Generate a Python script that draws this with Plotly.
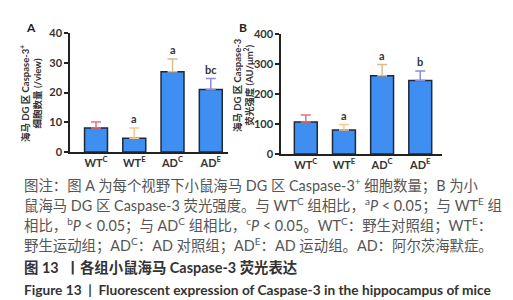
import plotly.graph_objects as go

groups = ["WT<sup>C</sup>", "WT<sup>E</sup>", "AD<sup>C</sup>", "AD<sup>E</sup>"]
count_mean = [8.1, 4.6, 27.0, 21.0]
count_err = [2.0, 3.5, 4.3, 3.7]
count_sig = ["", "a", "a", "bc"]
intensity_mean = [107, 80, 261, 245]
intensity_err = [23, 18, 37, 32]
intensity_sig = ["", "a", "a", "b"]
err_colors = ["#e8707a", "#f2c98f", "#d9bc8c", "#8c8ce0"]

caption_lines = [
    "图注：图 A 为每个视野下小鼠海马 DG 区 Caspase-3<sup>+</sup> 细胞数量；B 为小",
    "鼠海马 DG 区 Caspase-3 荧光强度。与 WT<sup>C</sup> 组相比，<sup>a</sup><i>P</i> < 0.05；与 WT<sup>E</sup> 组",
    "相比，<sup>b</sup><i>P</i> < 0.05；与 AD<sup>C</sup> 组相比，<sup>c</sup><i>P</i> < 0.05。WT<sup>C</sup>：野生对照组；WT<sup>E</sup>：",
    "野生运动组；AD<sup>C</sup>：AD 对照组；AD<sup>E</sup>：AD 运动组。AD：阿尔茨海默症。",
]
title_cn = "图 13  丨各组小鼠海马 Caspase-3 荧光表达"
title_en = "Figure 13  |  Fluorescent expression of Caspase-3 in the hippocampus of mice"

FONT = "Lato, Noto Sans CJK SC, sans-serif"
fig = go.Figure()

def add_panel(means, errs, sigs, xa, ya):
    for i, g in enumerate(groups):
        fig.add_trace(go.Bar(
            x=[g], y=[means[i]], width=0.6,
            marker=dict(color="#3f8ef2", line=dict(color="#1e2a3a", width=1.5)),
            error_y=dict(type="data", symmetric=False, array=[errs[i]], arrayminus=[0],
                         color=err_colors[i], thickness=1.5, width=5),
            xaxis=xa, yaxis=ya, showlegend=False,
        ))
        if sigs[i]:
            fig.add_annotation(x=g, y=means[i] + errs[i], xref=xa, yref=ya, text=sigs[i],
                               showarrow=False, xanchor="center", yanchor="bottom", yshift=1,
                               font=dict(size=11, color="#333", family=FONT, weight="bold"))

add_panel(count_mean, count_err, count_sig, "x", "y")
add_panel(intensity_mean, intensity_err, intensity_sig, "x2", "y2")

axis_common = dict(showline=True, linecolor="#222", linewidth=1.5, showgrid=False, zeroline=False,
                   tickfont=dict(size=11, color="#333", family=FONT, weight="bold"))
fig.update_layout(
    width=513, height=300, margin=dict(l=0, r=0, t=0, b=0, autoexpand=False),
    paper_bgcolor="white", plot_bgcolor="white", barmode="overlay",
    font=dict(family=FONT),
    xaxis=dict(domain=[62/513, 220/513], range=[-0.68, 3.45], ticks="", anchor="y",
               categoryorder="array", categoryarray=groups, **axis_common),
    yaxis=dict(domain=[1-144/300, 1-25/300], range=[0, 40], tickvals=[0, 10, 20, 30, 40],
               ticks="outside", ticklen=4, tickcolor="#222", tickwidth=1.5, anchor="x", **axis_common),
    xaxis2=dict(domain=[273/513, 434/513], range=[-0.65, 3.57], ticks="", anchor="y2",
                categoryorder="array", categoryarray=groups, **axis_common),
    yaxis2=dict(domain=[1-146/300, 1-26/300], range=[0, 400], tickvals=[0, 100, 200, 300, 400],
                ticks="outside", ticklen=4, tickcolor="#222", tickwidth=1.5, anchor="x2", **axis_common),
)

def pann(x, y, text, size, color="#333", angle=0, xanchor="center"):
    fig.add_annotation(x=x/513, y=1-y/300, xref="paper", yref="paper", text=text, showarrow=False,
                       textangle=angle, xanchor=xanchor, yanchor="middle",
                       font=dict(size=size, color=color, family=FONT))

# panel labels
pann(23, 19, "<b>A</b>", 12, "#222")
pann(235, 19, "<b>B</b>", 12, "#222")

# y titles
pann(23, 86, "<b>海马 DG 区 Caspase-3<sup>+</sup><br>细胞数量 (/view)</b>", 9.5, angle=-90)
pann(236, 77, "<b>海马 DG 区 Caspase-3<br>荧光强度 (AU/μm<sup>2</sup>)</b>", 9.5, angle=-90)

# caption
ys = [177, 197, 217, 237]
for line, yy in zip(caption_lines, ys):
    pann(14, yy, line, 14.4, "#555", xanchor="left")
pann(14, 259, "<b>" + title_cn + "</b>", 14.4, "#333", xanchor="left")
pann(14, 281, "<b>" + title_en + "</b>", 13.7, "#333", xanchor="left")

fig.write_html("out.html")
